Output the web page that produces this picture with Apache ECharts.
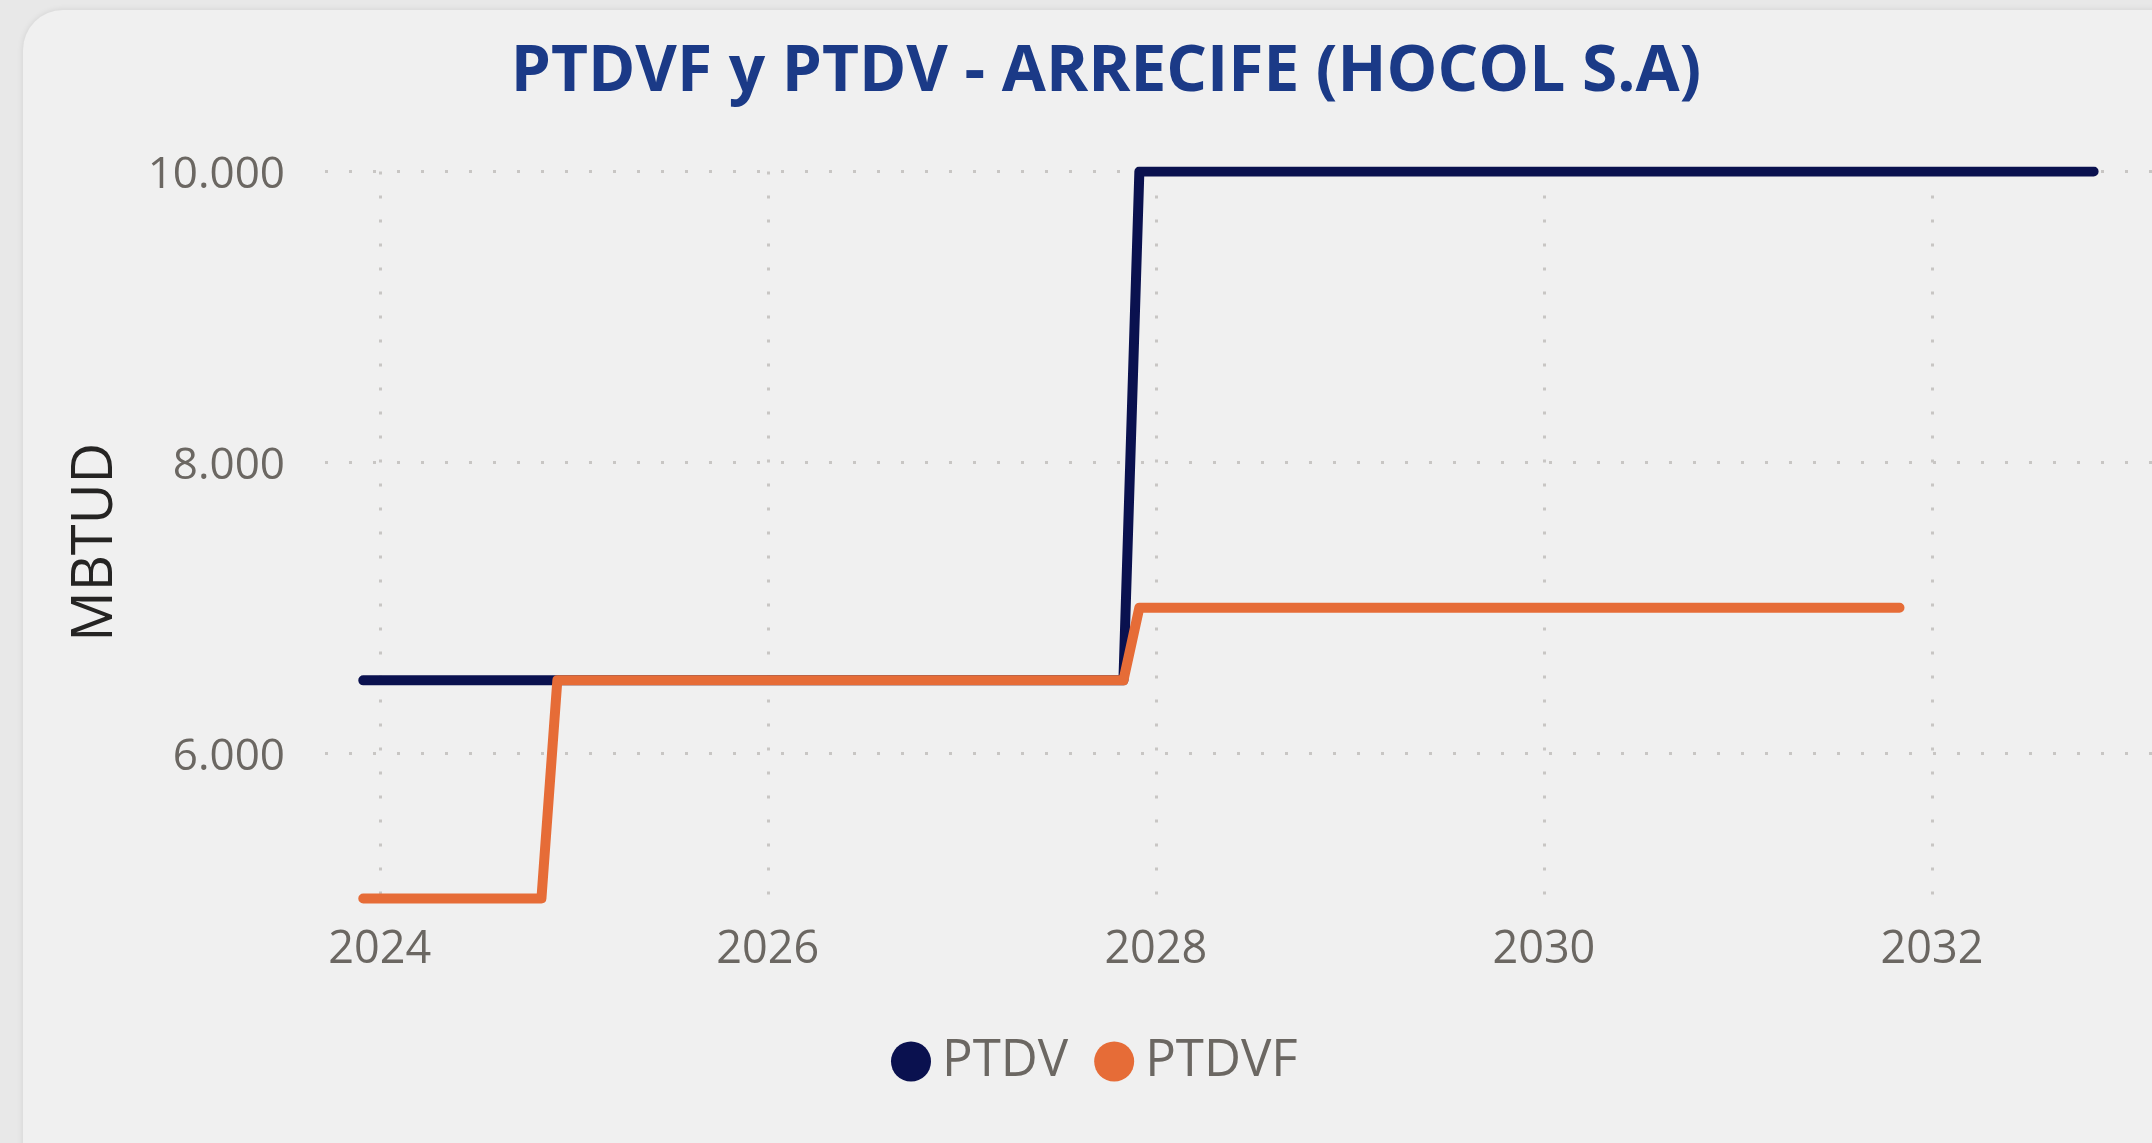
<!DOCTYPE html>
<html>
<head>
<meta charset="utf-8">
<script src="https://cdn.jsdelivr.net/npm/echarts@6/dist/echarts.min.js"></script>
<style>
  html, body { margin: 0; padding: 0; width: 2152px; height: 1143px; background: #e8e8e8; overflow: hidden; }
  #card { position: absolute; left: 23px; top: 10px; width: 2200px; height: 1200px; background: #f0f0f0; border-radius: 40px; box-shadow: 0 0 6px rgba(0,0,0,0.10); }
  #chart { position: absolute; left: 0; top: 0; width: 2152px; height: 1143px; }
</style>
</head>
<body>
<div id="card"></div>
<div id="chart"></div>
<script>
// ---- data (monthly steps; break points) ----
const titleText = 'PTDVF y PTDV - ARRECIFE (HOCOL S.A)';
const yAxisName = 'MBTUD';
const seriesNames = ['PTDV', 'PTDVF'];
const ptdvDates = ['2023-12-01', '2027-11-01', '2027-12-01', '2032-11-01'];
const ptdvValues = [6500, 6500, 10000, 10000];
const ptdvfDates = ['2023-12-01', '2024-11-01', '2024-12-01', '2027-11-01', '2027-12-01', '2031-11-01'];
const ptdvfValues = [5000, 5000, 6500, 6500, 7000, 7000];
const xTickDates = ['2024-01-01', '2026-01-01', '2028-01-01', '2030-01-01', '2032-01-01'];
const xTickLabels = ['2024', '2026', '2028', '2030', '2032'];
const yTickValues = [6000, 8000, 10000];
const xMinDate = '2023-09-20', xMaxDate = '2033-02-19';
const yMin = 4900, yMax = 10000;

const colors = ['#0a114f', '#e66c37'];
const gridColor = '#c8c6c4';
const labelColor = '#6b6762';
const fontFam = '"Open Sans", "Noto Sans", sans-serif';

// date string -> fractional year (position on a linear time scale)
function toYear(s) {
  const p = s.split('-').map(Number);
  const t = Date.UTC(p[0], p[1] - 1, p[2]);
  const a = Date.UTC(p[0], 0, 1), b = Date.UTC(p[0] + 1, 0, 1);
  return p[0] + (t - a) / (b - a);
}
function fmtThousands(v) {
  return String(v).replace(/\B(?=(\d{3})+(?!\d))/g, '.');
}
const xTicks = xTickDates.map(toYear);

const chart = echarts.init(document.getElementById('chart'), null, { renderer: 'canvas' });
const gridLine = { show: true, lineStyle: { color: gridColor, width: 3, type: [3, 21] } };

chart.setOption({
  backgroundColor: 'transparent',
  title: {
    text: titleText,
    left: 1101, top: 36, textAlign: 'center',
    textStyle: { color: '#1b3a87', fontFamily: fontFam, fontWeight: 'bold', fontSize: 64 }
  },
  legend: {
    data: seriesNames,
    left: 886, top: 1031,
    icon: 'circle', itemWidth: 40, itemHeight: 40, itemGap: 26,
    textStyle: { color: labelColor, fontFamily: fontFam, fontSize: 51, padding: [0, 0, 0, 6] }
  },
  grid: { left: 325, right: 0, top: 171.5, bottom: 230, outerBoundsMode: 'none' },
  xAxis: {
    type: 'value',
    min: toYear(xMinDate), max: toYear(xMaxDate),
    axisLine: { show: false },
    axisTick: { show: false, customValues: xTicks },
    splitLine: Object.assign({ customValues: xTicks }, gridLine),
    axisLabel: {
      customValues: xTicks,
      color: labelColor, fontFamily: fontFam, fontSize: 45, margin: 15,
      formatter: function (v) {
        const i = xTicks.indexOf(v);
        return i >= 0 ? xTickLabels[i] : String(Math.round(v));
      }
    }
  },
  yAxis: {
    type: 'value',
    min: yMin, max: yMax,
    name: yAxisName, nameLocation: 'middle', nameGap: 201, nameRotate: 90,
    nameTextStyle: { color: '#252423', fontFamily: fontFam, fontSize: 56, fontWeight: 500 },
    axisLine: { show: false },
    axisTick: { show: false, customValues: yTickValues },
    splitLine: Object.assign({ customValues: yTickValues }, gridLine),
    axisLabel: {
      customValues: yTickValues,
      color: labelColor, fontFamily: fontFam, fontSize: 44, margin: 40,
      lineHeight: 52, verticalAlign: 'top', padding: [-22, 0, 0, 0],
      formatter: fmtThousands
    }
  },
  series: [
    {
      name: seriesNames[0], type: 'line',
      data: ptdvDates.map((d, i) => [toYear(d), ptdvValues[i]]),
      showSymbol: false, symbol: 'none',
      itemStyle: { color: colors[0] },
      lineStyle: { color: colors[0], width: 10, cap: 'round', join: 'round' },
      z: 2
    },
    {
      name: seriesNames[1], type: 'line',
      data: ptdvfDates.map((d, i) => [toYear(d), ptdvfValues[i]]),
      showSymbol: false, symbol: 'none',
      itemStyle: { color: colors[1] },
      lineStyle: { color: colors[1], width: 10, cap: 'round', join: 'round' },
      z: 3
    }
  ],
  animation: false
});
</script>
</body>
</html>
